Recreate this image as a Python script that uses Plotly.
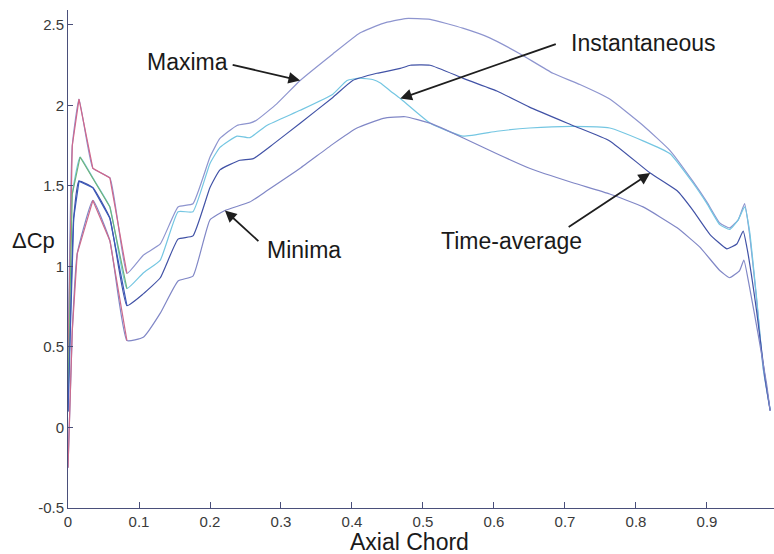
import plotly.graph_objects as go

# Pressure-difference distribution along the axial chord
x_max = [0, 0.006, 0.0155, 0.035, 0.059, 0.083, 0.106, 0.130, 0.155, 0.176, 0.200,
         0.214, 0.238, 0.256, 0.266, 0.294, 0.327, 0.373, 0.411, 0.444, 0.475, 0.51,
         0.556, 0.594, 0.637, 0.683, 0.721, 0.763, 0.81, 0.848, 0.880, 0.900, 0.918,
         0.932, 0.944, 0.953, 0.960, 0.970, 0.979, 0.989]
y_max = [0.4, 1.75, 2.04, 1.61, 1.55, 0.957, 1.07, 1.14, 1.37, 1.39, 1.68,
         1.795, 1.876, 1.89, 1.91, 2.01, 2.155, 2.32, 2.45, 2.51, 2.54, 2.535,
         2.48, 2.42, 2.32, 2.20, 2.13, 2.04, 1.876, 1.72, 1.53, 1.40, 1.27,
         1.24, 1.29, 1.39, 1.20, 0.79, 0.37, 0.105]

x_ins = [0, 0.006, 0.017, 0.035, 0.059, 0.083, 0.106, 0.130, 0.155, 0.176, 0.200,
         0.214, 0.238, 0.256, 0.28, 0.327, 0.373, 0.393, 0.411, 0.43, 0.44, 0.454,
         0.468, 0.51, 0.556, 0.604, 0.65, 0.711, 0.763, 0.81, 0.848, 0.880, 0.900,
         0.918, 0.932, 0.944, 0.953, 0.960, 0.970, 0.979, 0.989]
y_ins = [0.2, 1.45, 1.68, 1.55, 1.37, 0.863, 0.96, 1.04, 1.34, 1.34, 1.64,
         1.74, 1.81, 1.80, 1.876, 1.97, 2.07, 2.155, 2.17, 2.16, 2.14, 2.09,
         2.043, 1.89, 1.81, 1.84, 1.86, 1.87, 1.86, 1.78, 1.70, 1.52, 1.39,
         1.26, 1.23, 1.29, 1.37, 1.22, 0.80, 0.38, 0.11]

x_avg = [0, 0.008, 0.0155, 0.035, 0.059, 0.083, 0.106, 0.130, 0.155, 0.176, 0.200,
         0.214, 0.242, 0.261, 0.289, 0.327, 0.373, 0.401, 0.435, 0.468, 0.482, 0.51,
         0.556, 0.604, 0.65, 0.711, 0.763, 0.82, 0.858, 0.880, 0.904, 0.928, 0.942,
         0.951, 0.957, 0.970, 0.982, 0.989]
y_avg = [0.1, 1.3, 1.53, 1.49, 1.30, 0.757, 0.83, 0.93, 1.17, 1.19, 1.49,
         1.60, 1.66, 1.67, 1.76, 1.89, 2.05, 2.155, 2.20, 2.23, 2.25, 2.25,
         2.17, 2.09, 1.99, 1.876, 1.78, 1.58, 1.47, 1.35, 1.20, 1.11, 1.14,
         1.22, 1.10, 0.72, 0.30, 0.105]

x_min = [0, 0.006, 0.013, 0.035, 0.059, 0.083, 0.106, 0.130, 0.155, 0.176, 0.200,
         0.221, 0.256, 0.28, 0.327, 0.373, 0.407, 0.444, 0.475, 0.51, 0.556, 0.604,
         0.65, 0.711, 0.763, 0.81, 0.858, 0.89, 0.918, 0.932, 0.946, 0.952, 0.960,
         0.972, 0.984, 0.989]
y_min = [-0.25, 0.6, 1.08, 1.41, 1.16, 0.54, 0.56, 0.71, 0.91, 0.94, 1.29,
         1.348, 1.40, 1.47, 1.61, 1.76, 1.86, 1.92, 1.93, 1.89, 1.80, 1.70,
         1.61, 1.52, 1.45, 1.37, 1.24, 1.12, 0.975, 0.93, 0.975, 1.04, 0.87,
         0.58, 0.27, 0.105]

x_ticks = [0, 0.1, 0.2, 0.3, 0.4, 0.5, 0.6, 0.7, 0.8, 0.9]
x_tick_text = ["0", "0.1", "0.2", "0.3", "0.4", "0.5", "0.6", "0.7", "0.8", "0.9"]
y_ticks = [-0.5, 0, 0.5, 1, 1.5, 2, 2.5]
y_tick_text = ["-0.5", "0", "0.5", "1", "1.5", "2", "2.5"]

# number of leading-edge points drawn in a separate tint
n_le = 6

FONT = "Liberation Sans, Arial, sans-serif"

fig = go.Figure()

series = [
    (x_max, y_max, "#8e95cf", "#d0668a"),
    (x_ins, y_ins, "#74c6e2", "#6fb27a"),
    (x_avg, y_avg, "#4152a6", "#3b58b8"),
    (x_min, y_min, "#8087c6", "#cc6a8c"),
]
for xs, ys, col, le_col in series:
    fig.add_trace(go.Scatter(x=xs, y=ys, mode="lines",
                             line=dict(color=col, width=1.2, shape="spline", smoothing=0.4),
                             showlegend=False, hoverinfo="skip"))
for xs, ys, col, le_col in series:
    fig.add_trace(go.Scatter(x=xs[:n_le], y=ys[:n_le], mode="lines",
                             line=dict(color=le_col, width=1.2),
                             showlegend=False, hoverinfo="skip"))

# arrows pointing at curve points, tails offset in pixels
arrows = [
    (x_max, y_max, x_max.index(0.327), -69, -16),
    (x_ins, y_ins, x_ins.index(0.468), 157, -55),
    (x_min, y_min, x_min.index(0.221), 35, 32),
    (x_avg, y_avg, x_avg.index(0.82), -83, 55),
]
for xs, ys, i, ax, ay in arrows:
    fig.add_annotation(x=xs[i], y=ys[i], ax=ax, ay=ay, text="",
                       showarrow=True, arrowhead=2, arrowsize=1.3,
                       arrowwidth=1.8, arrowcolor="#1e1e1e")

labels = [
    ("Maxima", 0.169, 2.267),
    ("Instantaneous", 0.81, 2.385),
    ("Minima", 0.333, 1.10),
    ("Time-average", 0.625, 1.16),
]
for txt, lx, ly in labels:
    fig.add_annotation(x=lx, y=ly, text=txt, showarrow=False,
                       xanchor="center", yanchor="middle",
                       font=dict(family=FONT, size=23, color="#1a1a1a"))

fig.add_annotation(xref="paper", yref="paper", x=-0.049, y=0.538, text="ΔCp",
                   showarrow=False, xanchor="center", yanchor="middle",
                   font=dict(family=FONT, size=22, color="#1a1a1a"))
fig.add_annotation(xref="paper", yref="paper", x=0.484, y=-0.068, text="Axial Chord",
                   showarrow=False, xanchor="center", yanchor="middle",
                   font=dict(family=FONT, size=23, color="#1a1a1a"))

fig.update_layout(
    width=774, height=554,
    margin=dict(l=68, r=0, t=10, b=46),
    paper_bgcolor="white", plot_bgcolor="white",
    font=dict(family=FONT),
    xaxis=dict(range=[0, 0.9944], tickvals=x_ticks, ticktext=x_tick_text,
               showgrid=False, zeroline=False, showline=True, linecolor="#4a4f7a",
               linewidth=1, ticks="inside", ticklen=6, tickcolor="#4a4f7a",
               tickfont=dict(family=FONT, size=15, color="#3a3a3a")),
    yaxis=dict(range=[-0.5, 2.593], tickvals=y_ticks, ticktext=y_tick_text,
               showgrid=False, zeroline=False, showline=True, linecolor="#4a4f7a",
               linewidth=1, ticks="inside", ticklen=5, tickcolor="#4a4f7a",
               tickfont=dict(family=FONT, size=15, color="#3a3a3a")),
)

fig.write_html("out.html")
